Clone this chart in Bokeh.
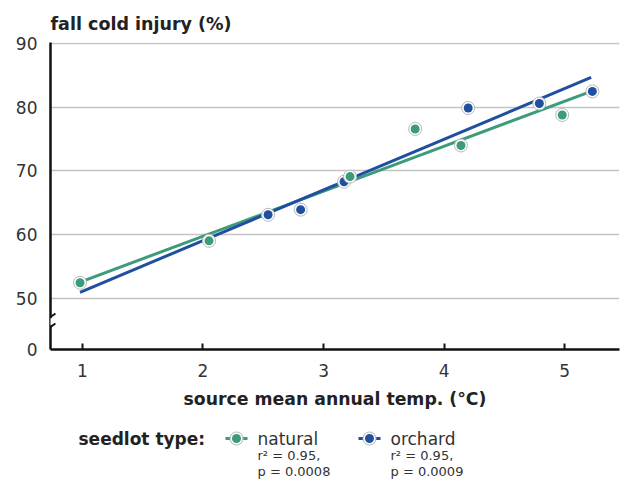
from bokeh.plotting import figure
from bokeh.models import Range1d, FixedTicker, Arrow, ColumnDataSource
from bokeh.layouts import column
from bokeh.core.properties import value
from bokeh.embed import file_html
from bokeh.resources import INLINE

# ---- data ----
natural_temp = [0.98, 2.05, 3.22, 3.76, 4.14, 4.98]
natural_injury = [52.4, 59.0, 69.1, 76.6, 74.0, 78.8]
orchard_temp = [2.54, 2.81, 3.17, 4.20, 4.79, 5.23]
orchard_injury = [63.1, 63.9, 68.3, 79.9, 80.6, 82.5]
fit_temp = [0.98, 5.22]
natural_fit = [52.5, 82.5]
orchard_fit = [50.9, 84.7]

x_ticks = [1, 2, 3, 4, 5]
y_ticks = [50, 60, 70, 80, 90]
zero_pos = 41.9  # where the broken axis shows "0"

GREEN = "#3b9b7b"
BLUE = "#1f4f9e"
FONT = "DejaVu Sans"

p = figure(width=620, height=418, output_backend="svg", toolbar_location=None,
           x_range=Range1d(0.735, 5.455), y_range=Range1d(zero_pos, 90.2),
           min_border_left=50, min_border_right=1, min_border_top=42,
           min_border_bottom=69)
p.outline_line_color = None
p.background_fill_color = "white"
p.border_fill_color = "white"

p.title.text = "fall cold injury (%)"
p.title.text_font = FONT
p.title.text_font_size = "17.5px"
p.title.text_font_style = "bold"
p.title.text_color = "#222222"
p.title.align = "left"
p.title.offset = 0
p.title.standoff = 18

# axes
p.xaxis.ticker = FixedTicker(ticks=x_ticks)
p.yaxis.ticker = FixedTicker(ticks=[zero_pos] + y_ticks)
p.yaxis.major_label_overrides = {zero_pos: "0"}
for ax in (p.xaxis, p.yaxis):
    ax.axis_line_color = "#111111"
    ax.axis_line_width = 2.5
    ax.major_label_text_font = FONT
    ax.major_label_text_font_size = "17px"
    ax.major_label_text_color = "#333333"
    ax.minor_tick_line_color = None
p.xaxis.major_tick_in = 6
p.xaxis.major_tick_out = 0
p.xaxis.major_tick_line_width = 2
p.xaxis.major_tick_line_color = "#111111"
p.xaxis.major_label_standoff = 14
p.xaxis.axis_label = "source mean annual temp. (°C)"
p.xaxis.axis_label_text_font = FONT
p.xaxis.axis_label_text_font_size = "17.3px"
p.xaxis.axis_label_text_font_style = "bold"
p.xaxis.axis_label_text_color = "#222222"
p.xaxis.axis_label_standoff = 9
p.yaxis.major_tick_line_color = None
p.yaxis.major_tick_in = 0
p.yaxis.major_tick_out = 0
p.yaxis.major_label_standoff = 13

p.xgrid.grid_line_color = None
p.ygrid.ticker = FixedTicker(ticks=y_ticks)
p.ygrid.grid_line_color = "#c4c4c4"
p.ygrid.grid_line_width = 1.5

# regression lines
p.line(fit_temp, natural_fit, line_color=GREEN, line_width=3)
p.line(fit_temp, orchard_fit, line_color=BLUE, line_width=3)

# points
src_o = ColumnDataSource(dict(x=orchard_temp, y=orchard_injury))
src_n = ColumnDataSource(dict(x=natural_temp, y=natural_injury))
for src, col in ((src_o, BLUE), (src_n, GREEN)):
    p.scatter("x", "y", source=src, size=13, fill_color="white",
              line_color="#b8b8b8", line_width=1)
    p.scatter("x", "y", source=src, size=9, fill_color=col, line_color=None)

# axis break marks
p.add_layout(Arrow(end=None, x_start=0.735, y_start=45.7, x_end=0.735, y_end=46.8,
                   line_color="white", line_width=6))
p.add_layout(Arrow(end=None, x_start=0.6935, y_start=46.46, x_end=0.776, y_end=47.56,
                   line_color="#111111", line_width=2))
p.add_layout(Arrow(end=None, x_start=0.6935, y_start=44.89, x_end=0.776, y_end=45.99,
                   line_color="#111111", line_width=2))

# ---- legend panel ----
leg_label = ["seedlot type:"]
series_names = ["natural", "orchard"]
series_stats = [["r\u00b2 = 0.95,", "p = 0.0008"], ["r\u00b2 = 0.95,", "p = 0.0009"]]
series_colors = [GREEN, BLUE]

LH = 62
# frame aligned with the main plot's frame (page x 50..619)
leg = figure(width=620, height=LH, output_backend="svg", toolbar_location=None,
             x_range=Range1d(50, 619), y_range=Range1d(0, LH),
             x_axis_type=None, y_axis_type=None,
             min_border_left=50, min_border_right=1, min_border_top=0,
             min_border_bottom=0)
leg.outline_line_color = None
leg.grid.grid_line_color = None

row1, row2, row3 = LH - 20, LH - 37, LH - 53
leg.text(x=[78], y=[row1], text=leg_label, text_font=value(FONT),
         text_font_size="17px", text_font_style="bold", text_color="#222222",
         text_baseline="middle")

item_x = [225, 358]
for i in range(2):
    x0 = item_x[i]
    leg.line([x0, x0 + 22], [row1, row1], line_color=series_colors[i], line_width=3)
    leg.scatter([x0 + 11], [row1], size=13, fill_color="white", line_color="#b8b8b8", line_width=1)
    leg.scatter([x0 + 11], [row1], size=9, fill_color=series_colors[i], line_color=None)
    leg.text(x=[x0 + 32], y=[row1], text=[series_names[i]], text_font=value(FONT),
             text_font_size="17px", text_color="#333333", text_baseline="middle")
    leg.text(x=[x0 + 32, x0 + 32], y=[row2, row3], text=series_stats[i], text_font=value(FONT),
             text_font_size="13px", text_color="#333333", text_baseline="middle")

layout = column(p, leg, spacing=0)
open("out.html", "w").write(file_html(layout, INLINE))
